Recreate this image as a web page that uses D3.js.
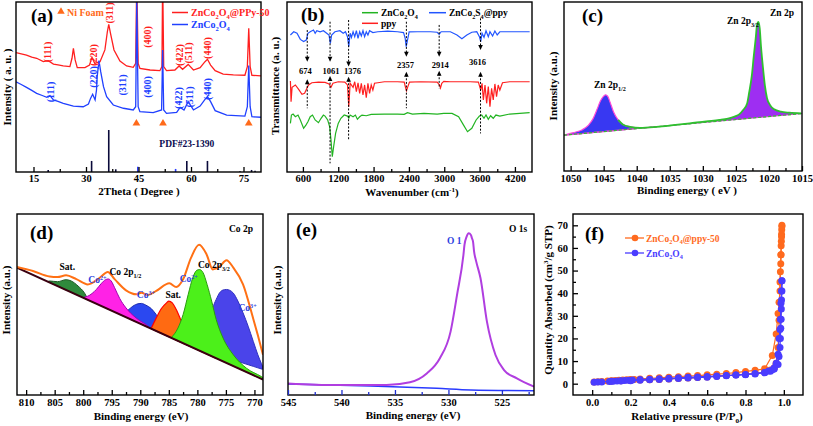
<!DOCTYPE html>
<html><head><meta charset="utf-8">
<script src="https://cdn.jsdelivr.net/npm/d3@7"></script>
<style>body{margin:0;background:#fff}svg{display:block}</style>
</head><body>
<svg id="c" width="813" height="426"></svg>
<script>
// ================= DATA =================
// (a) XRD  [2theta, intensity a.u.]
const xrdTicks=[15,30,45,60,75];
const xrdPPy=[[10.0,70.2],[11.5,69.5],[13.0,68.8],[14.5,67.6],[15.9,66.9],[17.8,64.9],[19.2,65.5],[20.7,63.5],[22.0,63.0],[23.5,62.4],[25.4,62.0],[26.0,66.9],[26.4,72.7],[26.9,65.9],[27.5,61.4],[29.7,61.4],[31.0,62.9],[31.7,67.5],[32.5,63.9],[34.0,64.9],[35.4,71.8],[36.1,82.5],[36.5,86.9],[37.0,81.6],[38.0,71.8],[39.7,65.3],[41.6,62.4],[43.5,61.6],[44.2,63.9],[44.5,115],[44.9,63.9],[45.4,61.0],[48.3,60.0],[51.1,59.6],[51.7,62.0],[51.9,115],[52.2,62.0],[53.0,59.6],[55.4,60.0],[56.6,62.4],[57.6,60.4],[59.2,63.3],[60.7,60.0],[62.6,61.4],[64.0,64.9],[64.7,66.3],[65.6,62.9],[66.9,59.6],[69.2,57.6],[72.1,57.1],[75.4,56.9],[76.1,62.0],[76.5,84.5],[76.9,62.0],[77.4,56.9],[80.0,56.5]];
const xrdZCO=[[10.0,53.1],[11.5,51.5],[13.0,49.8],[14.5,48.0],[15.9,46.3],[17.5,45.0],[18.8,43.9],[19.7,44.9],[20.7,42.4],[22.0,41.5],[23.5,40.4],[26.4,38.8],[29.2,38.4],[30.7,40.0],[31.3,43.3],[31.9,45.7],[32.6,42.4],[33.0,48.2],[33.2,56.1],[33.7,65.5],[34.2,59.0],[35.0,50.2],[35.9,44.3],[37.8,39.4],[40.7,37.5],[43.5,36.5],[44.2,38.4],[44.5,101],[44.9,38.4],[45.4,35.5],[49.2,34.9],[51.6,36.5],[51.9,71.8],[52.2,36.5],[53.0,34.5],[55.9,35.1],[56.9,38.0],[58.0,36.5],[59.2,41.4],[60.7,36.5],[62.6,38.8],[64.0,42.7],[64.7,44.3],[65.6,41.4],[66.9,36.1],[70.2,33.5],[75.4,32.9],[76.1,38.4],[76.5,62.7],[76.9,38.4],[77.4,32.5],[80.0,32.2]];
const niFoamPeaks=[44.4,52.0,76.5];
const pdfPos=[19.2,31.6,36.5,38.5,44.8,55.6,58.8,64.7,74.0,77.3,78.3];
const pdfInt=[1.2,6.5,24.7,1.6,3.1,1.8,6.5,6.5,0.4,1.2,0.8];
const hkl=["(111)","(220)","(311)","(400)","(422)","(511)","(440)"];
const hklPPyDeg=[18.8,31.9,36.5,47.3,56.6,59.2,64.7];
const hklPPyInt=[70.6,68.8,93.5,79.4,68.8,70.0,72.9];
const hklZCODeg=[19.7,31.9,40.2,47.3,56.4,59.4,64.5];
const hklZCOInt=[47.1,55.9,51.2,50.0,43.5,44.1,48.8];

// (b) FTIR [wavenumber, transmittance a.u.]
const ftirTicks=[600,1200,1800,2400,3000,3600,4200];
const ftirComposite=[[388,80.6],[444,82.5],[500,81.6],[556,78.0],[612,76.7],[657,77.6],[685,81.6],[724,82.5],[780,83.5],[808,81.6],[836,83.1],[892,82.5],[948,83.1],[1004,81.6],[1043,80.6],[1066,75.7],[1088,80.6],[1144,82.5],[1228,83.1],[1284,81.6],[1323,82.5],[1357,79.6],[1379,73.7],[1402,81.6],[1424,79.2],[1452,82.5],[1480,79.6],[1508,83.1],[1536,78.6],[1564,82.5],[1592,80.0],[1620,83.1],[1648,79.6],[1676,82.5],[1704,80.6],[1732,83.1],[1788,82.0],[1872,82.5],[2040,82.9],[2208,82.5],[2309,82.0],[2337,78.6],[2354,73.7],[2376,77.6],[2404,82.4],[2544,82.5],[2768,82.5],[2880,82.2],[2914,81.0],[2947,82.5],[3104,82.5],[3216,80.6],[3300,78.4],[3384,80.6],[3468,82.2],[3552,82.5],[3597,79.6],[3619,76.7],[3642,81.6],[3675,79.2],[3709,83.1],[3748,79.6],[3776,82.5],[3821,80.0],[3860,82.9],[3899,80.6],[3944,82.5],[4000,82.5],[4224,82.5],[4450,82.5]];
const ftirPpy=[[388,53.5],[399,41.4],[416,49.8],[472,51.2],[528,48.6],[584,45.7],[629,46.3],[668,49.2],[696,51.2],[752,52.5],[864,52.9],[976,52.7],[1043,51.8],[1077,49.8],[1110,52.2],[1200,53.1],[1312,52.9],[1357,51.2],[1379,38.4],[1402,52.2],[1452,49.8],[1480,53.1],[1508,47.3],[1536,52.5],[1564,46.3],[1592,52.2],[1620,45.3],[1648,51.2],[1676,43.7],[1704,52.2],[1732,46.3],[1760,51.2],[1788,48.2],[1816,52.2],[1872,52.5],[1984,53.1],[2208,53.1],[2320,52.9],[2342,49.8],[2359,47.8],[2382,50.2],[2410,52.9],[2600,53.1],[2880,52.9],[2919,51.2],[2936,49.4],[2958,52.2],[2992,53.3],[3104,53.1],[3440,53.1],[3580,52.9],[3619,48.2],[3642,52.2],[3664,42.4],[3692,51.2],[3720,40.4],[3748,50.2],[3776,38.4],[3804,49.2],[3832,42.4],[3860,51.8],[3888,44.3],[3916,51.2],[3944,48.2],[3989,52.5],[4112,53.1],[4450,53.1]];
const ftirZCO=[[388,28.6],[405,33.5],[433,34.1],[472,32.5],[517,33.5],[556,30.6],[612,25.7],[651,27.6],[685,29.6],[724,32.5],[763,33.5],[808,30.6],[864,29.0],[909,31.6],[948,33.5],[976,32.9],[1021,30.6],[1054,26.7],[1077,18.8],[1099,9.0],[1122,14.9],[1155,22.7],[1200,28.6],[1245,31.6],[1301,33.5],[1357,32.9],[1379,31.6],[1402,33.5],[1452,32.5],[1491,33.5],[1525,31.0],[1564,32.5],[1603,33.5],[1676,33.1],[1760,33.9],[1984,34.1],[2208,34.1],[2320,33.9],[2376,34.9],[2460,34.1],[2656,34.5],[2880,34.1],[2992,34.5],[3132,34.5],[3244,32.5],[3328,27.6],[3395,23.7],[3468,25.7],[3541,30.6],[3597,32.9],[3636,33.5],[3675,31.6],[3709,33.5],[3748,31.0],[3787,33.1],[3832,31.6],[3877,33.5],[3944,32.9],[4112,34.1],[4450,34.9]];
const ftirMarks=[674,1061,1376,2357,2914,3616];

// (c) Zn 2p XPS [binding energy, intensity]
const znTicks=[1050,1045,1040,1035,1030,1025,1020,1015];
const zn2p12=[[1051.0,21.2],[1049.6,22.7],[1048.3,24.3],[1047.3,27.1],[1046.6,31.0],[1046.0,36.5],[1045.5,41.4],[1045.1,43.9],[1044.7,45.1],[1044.4,44.3],[1044.0,40.4],[1043.5,34.9],[1042.8,30.2],[1042.1,27.5],[1041.0,26.1],[1039.5,25.5],[1037.0,26.1]];
const znMid=[[1034.5,27.1],[1032.0,28.2],[1029.5,29.4]];
const zn2p32=[[1027.5,30.2],[1026.2,31.0],[1025.2,32.2],[1024.5,33.5],[1023.9,36.1],[1023.3,40.0],[1023.0,46.3],[1022.6,56.1],[1022.3,67.8],[1022.0,78.6],[1021.8,86.5],[1021.6,88.2],[1021.4,84.5],[1021.2,73.7],[1020.9,61.0],[1020.6,50.2],[1020.3,43.3],[1019.8,38.8],[1019.2,36.5],[1018.2,35.1],[1016.9,34.5],[1015.1,34.1]];
const znBase=[[1051,21.2],[1015,34.0]];

// (d) Co 2p XPS
const coTicks=[810,805,800,795,790,785,780,775,770];
const coBase=[[811.6,70.4],[768.5,8.5]];
const coEnvelope=[[811.6,70.7],[808.8,68.5],[805.9,65.5],[804.5,65.2],[803.0,66.1],[801.2,64.0],[799.2,61.1],[797.1,64.8],[795.7,68.0],[794.5,64.0],[792.5,57.8],[790.7,55.6],[789.8,56.5],[788.7,55.2],[787.2,57.5],[784.9,61.7],[783.7,59.6],[782.5,63.9],[781.1,75.9],[779.7,83.0],[778.4,77.8],[777.3,69.4],[776.1,71.0],[774.9,74.4],[773.7,70.4],[772.0,61.1],[770.2,42.0],[769.4,33.0],[768.5,22.2]];
const coSat1=[[806.2,62.6],[805.9,63.0],[804.5,62.6],[803.0,63.7],[802.1,63.0],[800.9,60.2],[799.8,56.5],[799.2,53.3],[798.4,51.4]];
const co2p12Co2=[[799.8,54.1],[799.2,54.6],[797.7,58.3],[796.8,61.7],[796.1,63.7],[795.6,64.1],[795.1,63.0],[794.5,59.3],[793.6,53.3],[792.5,48.1],[791.3,44.1],[790.1,41.1],[789.0,38.9],[788.3,37.0]];
const co2p12Co3=[[793.3,44.4],[792.2,46.7],[791.3,49.1],[790.4,50.4],[789.8,50.6],[789.0,49.6],[788.1,47.8],[787.2,44.4],[786.0,39.3],[784.9,35.2],[783.7,32.4],[782.2,29.3],[781.5,27.4]];
const coSat2=[[788.1,36.7],[787.2,42.6],[786.3,47.8],[785.4,50.9],[785.0,51.9],[784.4,50.9],[783.7,47.2],[782.8,40.7],[781.9,34.3],[780.8,29.6],[779.6,26.9],[778.4,24.4],[777.0,21.0]];
const co2p32Co2=[[784.6,31.6],[783.4,37.0],[782.5,44.4],[781.6,55.6],[780.8,64.8],[780.1,68.9],[779.6,69.3],[779.0,67.6],[778.3,61.1],[777.5,51.9],[776.7,41.7],[775.5,31.5],[773.7,22.2],[771.4,14.8],[768.8,10.2],[768.5,9.6]];
const co2p32Co3=[[778.4,30.0],[777.8,41.7],[777.3,48.1],[776.7,52.8],[776.1,56.5],[775.5,58.0],[774.9,58.3],[774.3,57.8],[773.7,56.3],[772.9,51.9],[772.0,45.4],[771.1,38.0],[770.2,29.6],[769.4,22.2],[768.8,17.5],[768.6,16.0]];
const co2p32Co3Base=[[778.4,24.1],[768.6,14.2]];

// (e) O 1s XPS
const oTicks=[545,540,535,530,525];
const o1sFit=[[545.0,6.4],[540.5,5.5],[535.8,5.5],[533.6,7.0],[532.0,12.0],[530.8,20.3],[529.8,35.0],[529.2,55.2],[528.6,77.3],[528.5,82.9],[528.3,87.5],[528.1,89.3],[527.9,88.4],[527.8,86.6],[527.7,84.7],[527.6,79.2],[527.4,73.7],[527.0,64.5],[526.4,40.5],[525.6,22.1],[524.8,13.8],[523.6,9.2],[522.0,4.6]];
const o1sBase=[[545.0,6.1],[537.3,5.0],[531.1,3.7],[527.9,2.8],[522.0,2.4]];

// (f) N2 isotherms [P/P0, cm3/g STP]
const betTicksX=[0,0.2,0.4,0.6,0.8,1.0];
const betTicksY=[0,10,20,30,40,50,60,70];
const ppyAdsP=[0.01,0.03,0.05,0.08,0.10,0.12,0.14,0.16,0.18,0.20,0.22,0.25,0.30,0.35,0.40,0.45,0.50,0.55,0.60,0.65,0.70,0.75,0.80,0.85,0.90,0.94,0.96,0.97,0.975,0.98,0.982,0.984,0.985,0.986,0.987,0.988,0.989,0.99];
const ppyAdsV=[0.7,0.9,1.0,1.2,1.3,1.4,1.5,1.6,1.7,1.8,1.9,2.1,2.4,2.6,2.9,3.1,3.4,3.6,3.9,4.2,4.5,4.9,5.4,5.9,6.6,12.5,22,31,36,41,49.5,53,57,61,63,66,68,70];
const ppyDesP=[0.99,0.988,0.985,0.98,0.975,0.97,0.96,0.95,0.93,0.90,0.85,0.80,0.75,0.70,0.65,0.60,0.55,0.50,0.45,0.40,0.35,0.30,0.25,0.20,0.15,0.10];
const ppyDesV=[69.5,65,57,45,28,16,9,7,6,5.2,4.6,4.2,3.9,3.6,3.3,3.0,2.7,2.5,2.3,2.1,1.9,1.7,1.6,1.5,1.3,1.2];
const zcoAdsP=[0.01,0.03,0.05,0.09,0.11,0.13,0.15,0.17,0.19,0.21,0.25,0.30,0.35,0.40,0.45,0.50,0.55,0.60,0.65,0.70,0.75,0.80,0.85,0.90,0.93,0.95,0.97,0.975,0.98,0.982,0.984,0.986,0.987,0.988,0.99,0.99];
const zcoAdsV=[0.6,0.7,0.8,1.0,1.1,1.2,1.3,1.4,1.5,1.6,1.8,2.0,2.2,2.4,2.6,2.8,3.0,3.2,3.4,3.6,3.8,4.0,4.3,4.8,5.5,6.5,8.5,12,16,20,24.5,28.5,33,37,41,45.5];
const zcoDesP=[0.99,0.988,0.985,0.982,0.98,0.975,0.97,0.96,0.95,0.94,0.92,0.90,0.85,0.80,0.75,0.70,0.65,0.60,0.55,0.50,0.45,0.40,0.35,0.30,0.25,0.20,0.15,0.10];
const zcoDesV=[45.5,41,35.5,28.5,24,20,13,9,7,6.2,5.6,5.0,4.5,4.1,3.8,3.5,3.2,2.9,2.7,2.5,2.3,2.1,1.9,1.7,1.5,1.3,1.2,1.1];

// ================= DRAWING =================
const FONT='"Liberation Serif","Times New Roman",Times,serif';
const svg=d3.select("#c");
let clipN=0;
function panel(box,xd,yd){
  const x=d3.scaleLinear().domain(xd).range([box.l,box.r]);
  const y=d3.scaleLinear().domain(yd).range([box.b,box.t]);
  const id="clp"+(++clipN);
  svg.append("clipPath").attr("id",id).append("rect").attr("x",box.l).attr("y",box.t).attr("width",box.r-box.l).attr("height",box.b-box.t);
  const g=svg.append("g");
  const plot=g.append("g").attr("clip-path",`url(#${id})`);
  return {box,x,y,g,plot};
}
function frame(p){
  p.g.append("rect").attr("x",p.box.l).attr("y",p.box.t).attr("width",p.box.r-p.box.l).attr("height",p.box.b-p.box.t)
   .attr("fill","none").attr("stroke","#000").attr("stroke-width",1.4);
}
function styleAxis(g,col){
  g.select(".domain").remove();
  g.selectAll("text").attr("font-family",FONT).attr("font-weight","bold").attr("font-size",10.5).attr("fill","#000");
  g.selectAll("line").attr("stroke",col).attr("stroke-width",1.3);
}
function xAxis(p,majors,minors,fmt,pad,col){
  col=col||"#000";
  const g=p.g.append("g").attr("transform",`translate(0,${p.box.b})`)
    .call(d3.axisBottom(p.x).tickValues(majors).tickSize(-5).tickPadding(pad).tickFormat(fmt));
  styleAxis(g,col);
  if(minors){
    const m=p.g.append("g").attr("transform",`translate(0,${p.box.b})`)
      .call(d3.axisBottom(p.x).tickValues(minors).tickSize(-3).tickFormat(""));
    styleAxis(m,col);
  }
}
function yAxis(p,majors,minors,fmt){
  const g=p.g.append("g").attr("transform",`translate(${p.box.l},0)`)
    .call(d3.axisLeft(p.y).tickValues(majors).tickSize(-5).tickPadding(5).tickFormat(fmt));
  styleAxis(g,"#000");
  if(minors){
    const m=p.g.append("g").attr("transform",`translate(${p.box.l},0)`)
      .call(d3.axisLeft(p.y).tickValues(minors).tickSize(-3).tickFormat(""));
    styleAxis(m,"#000");
  }
}
// rich text: parts = strings or {t, sub|sup}
function txt(g,x,y,parts,size,color,anchor,rot){
  const t=g.append("text").attr("x",x).attr("y",y).attr("font-family",FONT).attr("font-weight","bold")
    .attr("font-size",size).attr("fill",color||"#000").attr("text-anchor",anchor||"start");
  if(typeof parts==="string") parts=[parts];
  let cur=0;
  parts.forEach(pt=>{
    const s=t.append("tspan");
    let target=0,fs=size,str=pt;
    if(typeof pt!=="string"){target=pt.sub?size*0.3:-size*0.4;fs=size*0.65;str=pt.t;}
    s.attr("font-size",fs).attr("dy",target-cur).text(str);cur=target;
  });
  if(rot) t.attr("transform",`rotate(-90,${x},${y})`);
  return t;
}
function lineOf(p,curve){return d3.line().x(d=>p.x(d[0])).y(d=>p.y(d[1])).curve(curve||d3.curveLinear);}
function interp(arr,xv){ // linear interpolation along a read baseline
  const a=arr.slice().sort((m,n)=>m[0]-n[0]);
  if(xv<=a[0][0])return a[0][1];
  for(let i=1;i<a.length;i++){if(xv<=a[i][0]){const t=(xv-a[i-1][0])/(a[i][0]-a[i-1][0]);return a[i-1][1]+t*(a[i][1]-a[i-1][1]);}}
  return a[a.length-1][1];
}
function areaOver(p,top,base,fill,stroke,sw){
  const ar=d3.area().x(d=>p.x(d[0])).y1(d=>p.y(d[1])).y0(d=>p.y(interp(base,d[0]))).curve(d3.curveMonotoneX);
  const sorted=top.slice().sort((m,n)=>m[0]-n[0]);
  p.plot.append("path").attr("d",ar(sorted)).attr("fill",fill).attr("stroke",stroke||"none").attr("stroke-width",sw||1);
}

// ---------- (a) XRD ----------
{
  const pa=panel({l:16,r:261,t:2,b:172},[10,80],[0,100]);
  const RED="#ff1f1f",BLUE="#2040ff",ORG="#ff6a1a";
  pa.plot.selectAll(".pdf").data(pdfPos).join("line")
    .attr("x1",d=>pa.x(d)).attr("x2",d=>pa.x(d)).attr("y1",pa.y(0))
    .attr("y2",(d,i)=>pa.y(pdfInt[i])).attr("stroke",(d,i)=>(i===4||i===5)?"#2a3cff":"#0a0a3a").attr("stroke-width",1.6);
  pa.plot.append("path").attr("d",lineOf(pa)(xrdPPy)).attr("fill","none").attr("stroke",RED).attr("stroke-width",1.3);
  pa.plot.append("path").attr("d",lineOf(pa)(xrdZCO)).attr("fill","none").attr("stroke",BLUE).attr("stroke-width",1.3);
  pa.plot.selectAll(".tri").data(niFoamPeaks).join("path")
    .attr("d",d3.symbol(d3.symbolTriangle,26)).attr("transform",d=>`translate(${pa.x(d)},${pa.y(28.6)})`).attr("fill",ORG);
  hkl.forEach((h,i)=>{
    txt(pa.g,pa.x(hklPPyDeg[i]),pa.y(hklPPyInt[i]),h,10,RED,"middle",true).attr("dominant-baseline","central");
    txt(pa.g,pa.x(hklZCODeg[i]),pa.y(hklZCOInt[i]),h,10,BLUE,"middle",true).attr("dominant-baseline","central");
  });
  frame(pa);
  xAxis(pa,xrdTicks,[22.5,37.5,52.5,67.5],d3.format("d"),3);
  txt(pa.g,31,22,"(a)",19,"#000");
  pa.g.append("path").attr("d",d3.symbol(d3.symbolTriangle,24)).attr("transform","translate(61,11.5)").attr("fill",ORG);
  txt(pa.g,67,15.5,"Ni Foam",10,ORG);
  pa.g.append("line").attr("x1",172).attr("x2",188).attr("y1",12.5).attr("y2",12.5).attr("stroke",RED).attr("stroke-width",1.5);
  txt(pa.g,191,16,["ZnCo",{t:"2",sub:1},"O",{t:"4",sub:1},"@PPy-50"],10,RED);
  pa.g.append("line").attr("x1",172).attr("x2",188).attr("y1",24.5).attr("y2",24.5).attr("stroke",BLUE).attr("stroke-width",1.5);
  txt(pa.g,191,28,["ZnCo",{t:"2",sub:1},"O",{t:"4",sub:1}],10,BLUE);
  txt(pa.g,pa.x(58.8),pa.y(14.5),"PDF#23-1390",9.5,"#0a0a50","middle");
  txt(pa.g,10.5,87,"Intensity ( a. u. )",11,"#000","middle",true);
  txt(pa.g,139,195,"2Theta ( Degree )",11,"#000","middle");
}

// ---------- (b) FTIR ----------
{
  const pb=panel({l:287,r:532,t:2,b:172},[330,4490],[0,100]);
  const G="#22b422",B="#2255ff",R="#ff2020";
  pb.plot.append("path").attr("d",lineOf(pb)(ftirZCO)).attr("fill","none").attr("stroke",G).attr("stroke-width",1.2);
  pb.plot.append("path").attr("d",lineOf(pb)(ftirPpy)).attr("fill","none").attr("stroke",R).attr("stroke-width",1.2);
  pb.plot.append("path").attr("d",lineOf(pb)(ftirComposite)).attr("fill","none").attr("stroke",B).attr("stroke-width",1.2);
  // dashed guides: [top, arrow tip, label, lower tip, lower end] in transmittance units, label x-shift px
  const guide=[[83.5,64.9,59.6,54.5,37.5,-2],[88.4,64.9,59.6,56.5,5.1,1],[89.4,62.0,59.6,56.1,18.8,4],[88.4,67.8,62.9,59.0,37.5,-1],[86.5,67.8,63.3,59.6,49.2,1],[90.4,71.8,64.9,59.0,22.7,-3]];
  ftirMarks.forEach((w,i)=>{
    const X=pb.x(w),gd=guide[i];
    pb.g.append("line").attr("x1",X).attr("x2",X).attr("y1",pb.y(gd[0])).attr("y2",pb.y(gd[1])-3).attr("stroke","#000").attr("stroke-width",1).attr("stroke-dasharray","2,1.6");
    const yd=pb.y(gd[1]);
    pb.g.append("path").attr("d",`M${X-2.3},${yd-5}L${X+2.3},${yd-5}L${X},${yd}Z`).attr("fill","#000");
    txt(pb.g,X+gd[5],pb.y(gd[2])+3.2,String(w),8.5,"#000","middle");
    const yu=pb.y(gd[3]);
    pb.g.append("path").attr("d",`M${X-2.3},${yu+5}L${X+2.3},${yu+5}L${X},${yu}Z`).attr("fill","#000");
    pb.g.append("line").attr("x1",X).attr("x2",X).attr("y1",yu+3).attr("y2",pb.y(gd[4])).attr("stroke","#000").attr("stroke-width",1).attr("stroke-dasharray","2,1.6");
  });
  frame(pb);
  xAxis(pb,ftirTicks,[900,1500,2100,2700,3300,3900],d3.format("d"),3);
  txt(pb.g,301,21,"(b)",19,"#000");
  pb.g.append("line").attr("x1",362).attr("x2",378).attr("y1",12.7).attr("y2",12.7).attr("stroke",G).attr("stroke-width",1.5);
  txt(pb.g,381,16,["ZnCo",{t:"2",sub:1},"O",{t:"4",sub:1}],9.5,"#000");
  pb.g.append("line").attr("x1",429).attr("x2",446).attr("y1",12.7).attr("y2",12.7).attr("stroke",B).attr("stroke-width",1.5);
  txt(pb.g,449,16,["ZnCo",{t:"2",sub:1},"S",{t:"4",sub:1},"@ppy"],9.5,"#000");
  pb.g.append("line").attr("x1",362).attr("x2",378).attr("y1",23.3).attr("y2",23.3).attr("stroke",R).attr("stroke-width",1.5);
  txt(pb.g,381,27,"ppy",9.5,"#000");
  txt(pb.g,279,86,"Transmittance (a. u.)",11,"#000","middle",true);
  txt(pb.g,412,196,["Wavenumber (cm",{t:"-1",sup:1},")"],11,"#000","middle");
}

// ---------- (c) Zn 2p ----------
{
  const pc=panel({l:564,r:802,t:2,b:171},[1051,1015],[0,100]);
  areaOver(pc,zn2p12,znBase,"#3838f2","#ff4ad8",1.2);
  areaOver(pc,zn2p32,znBase,"#9e2ef2","none");
  pc.plot.append("path").attr("d",lineOf(pc)(znBase)).attr("fill","none").attr("stroke","#d040d0").attr("stroke-width",1);
  pc.plot.append("path").attr("d",lineOf(pc,d3.curveMonotoneX)([...zn2p12.slice(12),...znMid,...zn2p32])).attr("fill","none").attr("stroke","#2fc02f").attr("stroke-width",1.8);
  pc.plot.append("path").attr("d",lineOf(pc)(znBase)).attr("fill","none").attr("stroke","#2fc02f").attr("stroke-width",1.2).attr("stroke-dasharray","3,2");
  frame(pc);
  xAxis(pc,znTicks,[1047.5,1042.5,1037.5,1032.5,1027.5,1022.5,1017.5],d3.format("d"),4);
  txt(pc.g,582,22,"(c)",19,"#000");
  txt(pc.g,770,16,"Zn 2p",9.5,"#000");
  txt(pc.g,727,24,["Zn 2p",{t:"3/2",sub:1}],9.5,"#000");
  txt(pc.g,594,88,["Zn 2p",{t:"1/2",sub:1}],9.5,"#000");
  txt(pc.g,557,86,"Intensity (a.u.)",11,"#000","middle",true);
  txt(pc.g,687,194,"Binding energy ( eV )",11,"#000","middle");
}

// ---------- (d) Co 2p ----------
{
  const pd=panel({l:17,r:263,t:214,b:395},[811.6,768.5],[0,100]);
  areaOver(pd,coSat1,coBase,"#2f8a3c","#1f5a25",1);
  areaOver(pd,co2p12Co3,coBase,"#2b48f0","#1a2ab0",1);
  areaOver(pd,co2p12Co2,coBase,"#ff22e6","#a000b0",1);
  areaOver(pd,co2p32Co3,co2p32Co3Base,"#4a44ea","#3030c0",1);
  areaOver(pd,coSat2,coBase,"#ff6a12","#ff0000",1.2);
  areaOver(pd,co2p32Co2,coBase,"#4cf01a","#2a9a10",1);
  pd.plot.append("path").attr("d",lineOf(pd)(coBase)).attr("fill","none").attr("stroke","#3a0010").attr("stroke-width",2);
  pd.plot.append("path").attr("d",lineOf(pd,d3.curveMonotoneX)(coEnvelope)).attr("fill","none").attr("stroke","#ff7014").attr("stroke-width",2);
  frame(pd);
  xAxis(pd,coTicks,[807.5,802.5,797.5,792.5,787.5,782.5,777.5,772.5],d3.format("d"),4);
  txt(pd.g,30,239,"(d)",19,"#000");
  txt(pd.g,229,232,"Co 2p",9.5,"#000");
  txt(pd.g,pd.x(802.8),pd.y(70.6)+3,"Sat.",9.5,"#000","middle");
  txt(pd.g,pd.x(795.4),pd.y(67.8)+3,["Co 2p",{t:"1/2",sub:1}],9.5,"#000");
  txt(pd.g,pd.x(799.1),pd.y(63.3)+3,["Co",{t:"2+",sup:1}],9.5,"#2a40e0");
  txt(pd.g,pd.x(790.6),pd.y(55)+3,["Co",{t:"3+",sup:1}],9.5,"#2a40e0");
  txt(pd.g,pd.x(785.6),pd.y(55)+3,"Sat.",9.5,"#000");
  txt(pd.g,pd.x(783.1),pd.y(63.9)+3,["Co",{t:"2+",sup:1}],9.5,"#2a40e0");
  txt(pd.g,pd.x(779.9),pd.y(71.7)+3,["Co 2p",{t:"3/2",sub:1}],9.5,"#000");
  txt(pd.g,pd.x(772.8),pd.y(47.8)+3,["Co",{t:"3+",sup:1}],9.5,"#2a40e0");
  txt(pd.g,9.5,300,"Intensity (a.u.)",11,"#000","middle",true);
  txt(pd.g,141,419.5,"Binding energy (eV)",11,"#000","middle");
}

// ---------- (e) O 1s ----------
{
  const pe=panel({l:288,r:534,t:214,b:395},[545,522],[0,100]);
  pe.plot.append("path").attr("d",lineOf(pe,d3.curveMonotoneX)(o1sBase)).attr("fill","none").attr("stroke","#2a3bff").attr("stroke-width",1.5);
  pe.plot.append("path").attr("d",lineOf(pe,d3.curveMonotoneX)(o1sFit)).attr("fill","none").attr("stroke","#b03ee0").attr("stroke-width",2);
  frame(pe);
  xAxis(pe,oTicks,[542.5,537.5,532.5,527.5,522.5],d3.format("d"),4,"#1f2fcf");
  txt(pe.g,296,236,"(e)",19,"#000");
  txt(pe.g,509,232,"O 1s",9.5,"#000");
  txt(pe.g,447,244,"O 1",9.5,"#2a40e0");
  txt(pe.g,281,300,"Intensity (a.u.)",11,"#000","middle",true);
  txt(pe.g,413,419,"Binding energy (eV)",11,"#000","middle");
}

// ---------- (f) BET ----------
{
  const pf=panel({l:573,r:803,t:214,b:395},[-0.1,1.1],[-5,75]);
  const O="#ff6a1e",B="#4a3cff";
  const series=[[ppyAdsP,ppyAdsV,O],[ppyDesP,ppyDesV,O],[zcoAdsP,zcoAdsV,B],[zcoDesP,zcoDesV,B]];
  series.forEach(([P,V,c])=>{
    const pts=P.map((p,i)=>[p,V[i]]);
    pf.plot.append("path").attr("d",lineOf(pf)(pts)).attr("fill","none").attr("stroke",c).attr("stroke-width",1.2);
    pf.plot.selectAll(null).data(pts).join("circle").attr("cx",d=>pf.x(d[0])).attr("cy",d=>pf.y(d[1])).attr("r",3.5).attr("fill",c);
  });
  frame(pf);
  xAxis(pf,betTicksX,[0.1,0.3,0.5,0.7,0.9],d3.format(".1f"),4);
  yAxis(pf,betTicksY,[5,15,25,35,45,55,65],d3.format("d"));
  txt(pf.g,585,240,"(f)",19,"#000");
  pf.g.append("line").attr("x1",625).attr("x2",644).attr("y1",238).attr("y2",238).attr("stroke",O).attr("stroke-width",1.3);
  pf.g.append("circle").attr("cx",635).attr("cy",238).attr("r",3.3).attr("fill",O);
  txt(pf.g,646,241.5,["ZnCo",{t:"2",sub:1},"O",{t:"4",sub:1},"@ppy-50"],9.5,O);
  pf.g.append("line").attr("x1",625).attr("x2",644).attr("y1",253).attr("y2",253).attr("stroke",B).attr("stroke-width",1.3);
  pf.g.append("circle").attr("cx",635).attr("cy",253).attr("r",3.3).attr("fill",B);
  txt(pf.g,646,256.5,["ZnCo",{t:"2",sub:1},"O",{t:"4",sub:1}],9.5,B);
  txt(pf.g,552,300,["Quantity Absorbed (cm",{t:"3",sup:1},"/g STP)"],11,"#000","middle",true);
  txt(pf.g,687,420,["Relative pressure (P/P",{t:"0",sub:1},")"],11,"#000","middle");
}
</script>
</body></html>
